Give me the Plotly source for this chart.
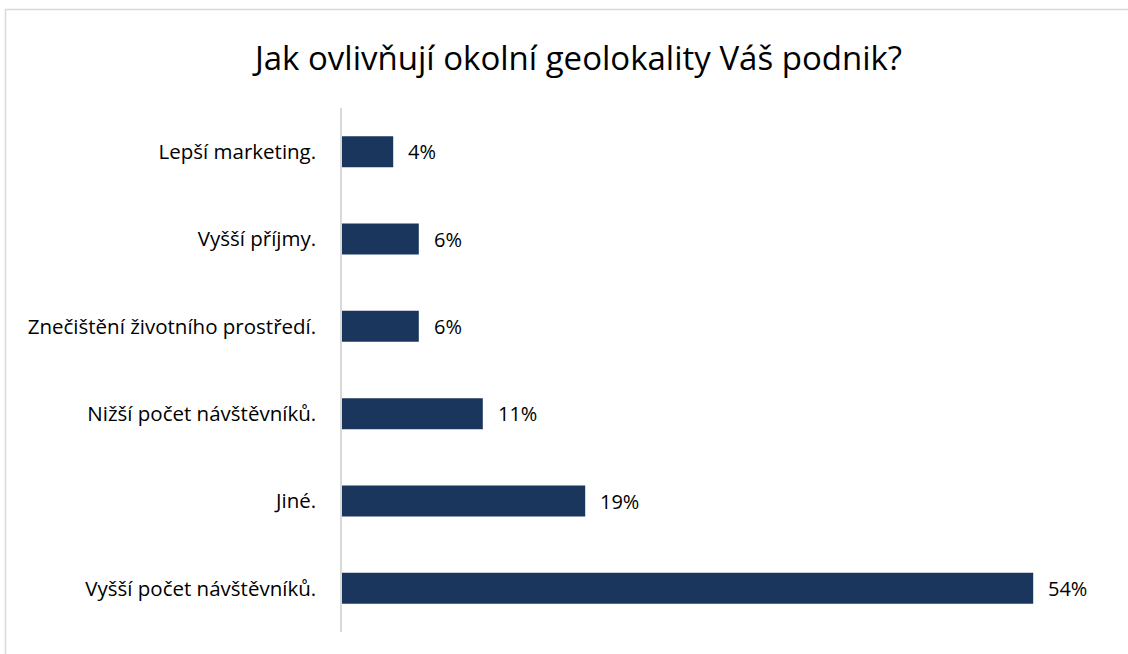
import plotly.graph_objects as go

# categories listed bottom to top, as plotly draws them
categories = [
    "Vyšší počet návštěvníků.",
    "Jiné.",
    "Nižší počet návštěvníků.",
    "Znečištění životního prostředí.",
    "Vyšší příjmy.",
    "Lepší marketing.",
]
shares = [54, 19, 11, 6, 6, 4]
share_labels = ["54%", "19%", "11%", "6%", "6%", "4%"]

title_text = "Jak ovlivňují okolní geolokality Váš podnik?"
bar_color = "#1B365D"
font_family = "Open Sans, Noto Sans, sans-serif"

W, H = 1128, 654
left, right, top, bottom = 342, 18, 108, 22
plot_w = W - left - right
plot_h = H - top - bottom

fig = go.Figure()
fig.add_trace(
    go.Bar(
        x=shares,
        y=categories,
        orientation="h",
        marker=dict(color=bar_color, line=dict(width=0)),
        width=0.355,
        hoverinfo="skip",
    )
)

for cat, val, lab in zip(categories, shares, share_labels):
    fig.add_annotation(
        x=val,
        y=cat,
        text=lab,
        showarrow=False,
        xanchor="left",
        xshift=13,
        font=dict(size=20, color="#000000", family=font_family),
    )

# light frame around the chart, partly cut off by the window
fig.add_shape(
    type="rect",
    xref="paper",
    yref="paper",
    x0=(5.5 - left) / plot_w,
    x1=(W + 10 - left) / plot_w,
    y0=(H - bottom - (H + 10)) / plot_h,
    y1=(H - bottom - 9.5) / plot_h,
    line=dict(color="#D9D9D9", width=1.5),
    layer="below",
)

fig.update_xaxes(
    range=[0, 60],
    showgrid=False,
    zeroline=False,
    showticklabels=False,
    showline=False,
)
fig.update_yaxes(
    showline=True,
    linecolor="#D9D9D9",
    linewidth=1.5,
    showgrid=False,
    ticks="",
    ticklabelstandoff=20,
    tickfont=dict(size=20.5, color="#000000", family=font_family),
)
fig.update_layout(
    width=W,
    height=H,
    margin=dict(l=left, r=right, t=top, b=bottom),
    paper_bgcolor="white",
    plot_bgcolor="white",
    showlegend=False,
    title=dict(
        text=title_text,
        x=578.5 / W,
        xanchor="center",
        xref="container",
        y=1 - 58 / H,
        yanchor="middle",
        yref="container",
        font=dict(size=33, color="#000000", family=font_family),
    ),
)

# drop the browser's default page margin so the figure sits at (0, 0)
fig.write_html(
    "out.html",
    config={"displayModeBar": False},
    post_script="document.body.style.margin='0';document.body.style.overflow='hidden';",
)
